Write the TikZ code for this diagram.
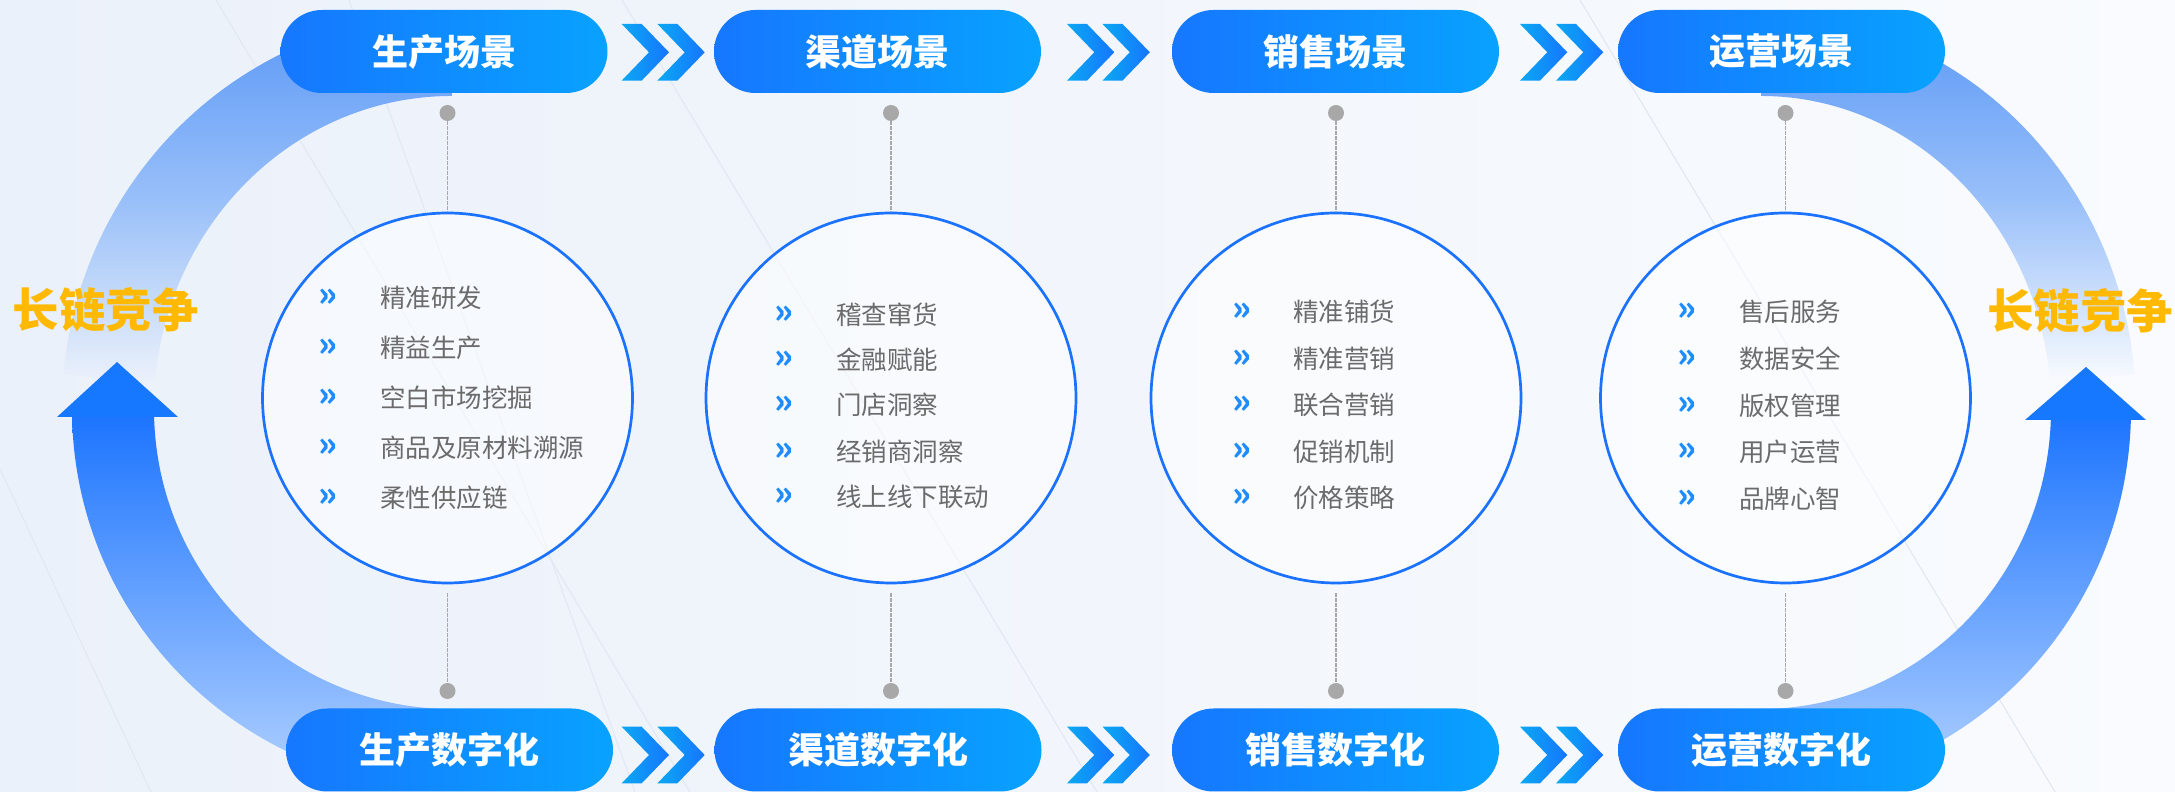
\documentclass[tikz,border=0pt]{standalone}
\usepackage{fontspec}
\newfontfamily\cjk{Noto Sans CJK SC}
\usetikzlibrary{calc}

\definecolor{bgL}{HTML}{EBF1FA}
\definecolor{bgR}{HTML}{F9FBFE}
\definecolor{streak}{HTML}{E3E9F2}
\definecolor{pillL}{HTML}{1677FF}
\definecolor{pillR}{HTML}{08A2FF}
\definecolor{chevL}{HTML}{0BA8F2}
\definecolor{chevR}{HTML}{1676FF}
\definecolor{ringblue}{HTML}{1A72FF}
\definecolor{pingray}{HTML}{A8A8A8}
\definecolor{itemgray}{HTML}{6B6B6B}
\definecolor{bulblue}{HTML}{1E8CFF}
\definecolor{gold}{HTML}{FFB900}
\definecolor{arcTop}{HTML}{5A98F6}
\definecolor{arcMid}{HTML}{98BFF9}
\definecolor{arcDark}{HTML}{1A73FF}
\definecolor{arcLight}{HTML}{B3D2FF}
\definecolor{arrowblue}{HTML}{1677FF}

\begin{document}
\begin{tikzpicture}[x=0.5pt,y=0.5pt,
  scenepill/.style={rounded corners=20.75pt, minimum width=163.5pt, minimum height=41.5pt,
    left color=pillL, right color=pillR, text=white, inner sep=0pt,
    font=\cjk\bfseries\fontsize{18}{20}\selectfont},
  ringnode/.style={circle, draw=ringblue, line width=1.35pt, fill=white, fill opacity=0.5,
    text opacity=1, minimum size=185pt, inner sep=0pt},
  pindot/.style={circle, fill=pingray, minimum size=8pt, inner sep=0pt},
  pinline/.style={draw=pingray, line width=0.7pt, dash pattern=on 1.6pt off 0.9pt},
  itemtext/.style={anchor=west, text=itemgray, inner sep=0pt,
    font=\cjk\fontsize{12.75}{14}\selectfont},
  itembullet/.style={text=bulblue, inner sep=0pt, font=\cjk\bfseries\fontsize{17}{18}\selectfont},
  chevshape/.style={left color=chevL, right color=chevR},
  sidelabel/.style={text=gold, inner sep=0pt, font=\cjk\bfseries\fontsize{23.25}{26}\selectfont}
]
\useasboundingbox (0,0) rectangle (2175,792);
\shade[left color=bgL, right color=bgR] (0,0) rectangle (2175,792);

% faint background streaks
\draw[streak, line width=0.6pt] (216,792) -- (690,0);
\draw[streak, line width=0.6pt] (0,323) -- (151,0);
\draw[streak, line width=0.6pt] (622,792) -- (1097,0);
\draw[streak, line width=0.6pt] (349,792) -- (635,0);
\draw[streak, line width=0.6pt] (1580,792) -- (2055,0);

% left loop
\shade[top color=arcTop, bottom color=bgL, middle color=arcMid]
  (452,778) arc[start angle=90, end angle=175, x radius=390, y radius=395]
  -- (155.1,410.3) arc[start angle=175, end angle=90, x radius=298, y radius=313] -- cycle;
\shade[top color=arcDark, bottom color=arcLight]
  (72,383) arc[start angle=180, end angle=270, x radius=380, y radius=380]
  -- (452,83) arc[start angle=270, end angle=180, x radius=298, y radius=300] -- cycle;
\fill[arrowblue] (57,375) -- (117,430) -- (178,375) -- cycle;

% right loop
\shade[top color=arcTop, bottom color=bgR, middle color=arcMid]
  (1761,778) arc[start angle=90, end angle=5, x radius=375, y radius=395]
  -- (2049.9,410.3) arc[start angle=5, end angle=90, x radius=290, y radius=313] -- cycle;
\shade[top color=arcDark, bottom color=arcLight]
  (2131,383) arc[start angle=0, end angle=-90, x radius=370, y radius=380]
  -- (1761,83) arc[start angle=-90, end angle=0, x radius=290, y radius=300] -- cycle;
\fill[arrowblue] (2025,372) -- (2086,425) -- (2146,372) -- cycle;

\node[sidelabel] (lleft) at (105.5,482) {长链竞争};
\node[sidelabel] (lright) at (2080,481) {长链竞争};

% circles
\node[ringnode] (circ1) at (447.5,394) {};
\node[ringnode] (circ2) at (891,394) {};
\node[ringnode] (circ3) at (1336,394) {};
\node[ringnode] (circ4) at (1785.5,394) {};

\node[pindot] (dt1) at (447.5,679) {};
\node[pindot] (dt2) at (891,679) {};
\node[pindot] (dt3) at (1336,679) {};
\node[pindot] (dt4) at (1785.5,679) {};
\node[pindot] (db1) at (447.5,101) {};
\node[pindot] (db2) at (891,101) {};
\node[pindot] (db3) at (1336,101) {};
\node[pindot] (db4) at (1785.5,101) {};

\draw[pinline] (dt1) -- (circ1);
\draw[pinline] (dt2) -- (circ2);
\draw[pinline] (dt3) -- (circ3);
\draw[pinline] (dt4) -- (circ4);
\draw[pinline] ([yshift=-4.5pt]circ1.south) -- (db1);
\draw[pinline] ([yshift=-4.5pt]circ2.south) -- (db2);
\draw[pinline] ([yshift=-4.5pt]circ3.south) -- (db3);
\draw[pinline] ([yshift=-4.5pt]circ4.south) -- (db4);

% scene pills
\node[scenepill] (scn1) at (444,740.5) {生产场景};
\node[scenepill] (scn2) at (877.5,740.5) {渠道场景};
\node[scenepill] (scn3) at (1335.5,740.5) {销售场景};
\node[scenepill] (scn4) at (1781.5,740.5) {运营场景};
\node[scenepill] (dig1) at (449.5,42) {生产数字化};
\node[scenepill] (dig2) at (878,42) {渠道数字化};
\node[scenepill] (dig3) at (1335.5,42) {销售数字化};
\node[scenepill] (dig4) at (1781.5,42) {运营数字化};

% chevrons between pills
\shade[chevshape] (621.7,768) -- ++(20,0) -- ++(27.3,-28.3) -- ++(-27.3,-28.3) -- ++(-20,0) -- ++(27.3,28.3) -- cycle;
\shade[chevshape] (657.4,768) -- ++(20,0) -- ++(27.3,-28.3) -- ++(-27.3,-28.3) -- ++(-20,0) -- ++(27.3,28.3) -- cycle;
\shade[chevshape] (1067,768) -- ++(20,0) -- ++(27.3,-28.3) -- ++(-27.3,-28.3) -- ++(-20,0) -- ++(27.3,28.3) -- cycle;
\shade[chevshape] (1102.5,768) -- ++(20,0) -- ++(27.3,-28.3) -- ++(-27.3,-28.3) -- ++(-20,0) -- ++(27.3,28.3) -- cycle;
\shade[chevshape] (1520,768) -- ++(20,0) -- ++(27.3,-28.3) -- ++(-27.3,-28.3) -- ++(-20,0) -- ++(27.3,28.3) -- cycle;
\shade[chevshape] (1556,768) -- ++(20,0) -- ++(27.3,-28.3) -- ++(-27.3,-28.3) -- ++(-20,0) -- ++(27.3,28.3) -- cycle;
\shade[chevshape] (621.7,65.3) -- ++(20,0) -- ++(27.3,-28.3) -- ++(-27.3,-28.3) -- ++(-20,0) -- ++(27.3,28.3) -- cycle;
\shade[chevshape] (657.4,65.3) -- ++(20,0) -- ++(27.3,-28.3) -- ++(-27.3,-28.3) -- ++(-20,0) -- ++(27.3,28.3) -- cycle;
\shade[chevshape] (1067,65.3) -- ++(20,0) -- ++(27.3,-28.3) -- ++(-27.3,-28.3) -- ++(-20,0) -- ++(27.3,28.3) -- cycle;
\shade[chevshape] (1102.5,65.3) -- ++(20,0) -- ++(27.3,-28.3) -- ++(-27.3,-28.3) -- ++(-20,0) -- ++(27.3,28.3) -- cycle;
\shade[chevshape] (1520,65.3) -- ++(20,0) -- ++(27.3,-28.3) -- ++(-27.3,-28.3) -- ++(-20,0) -- ++(27.3,28.3) -- cycle;
\shade[chevshape] (1556,65.3) -- ++(20,0) -- ++(27.3,-28.3) -- ++(-27.3,-28.3) -- ++(-20,0) -- ++(27.3,28.3) -- cycle;

% items, circle 1
\node[itembullet] (b11) at (328,494) {»};
\node[itembullet] (b12) at (328,444) {»};
\node[itembullet] (b13) at (328,394) {»};
\node[itembullet] (b14) at (328,344) {»};
\node[itembullet] (b15) at (328,294) {»};
\node[itemtext] (t11) at (380,494) {精准研发};
\node[itemtext] (t12) at (380,444) {精益生产};
\node[itemtext] (t13) at (380,394) {空白市场挖掘};
\node[itemtext] (t14) at (380,344) {商品及原材料溯源};
\node[itemtext] (t15) at (380,294) {柔性供应链};
% items, circle 2
\node[itembullet] (b21) at (784,477) {»};
\node[itembullet] (b22) at (784,432) {»};
\node[itembullet] (b23) at (784,387) {»};
\node[itembullet] (b24) at (784,340) {»};
\node[itembullet] (b25) at (784,295) {»};
\node[itemtext] (t21) at (836,477) {稽查窜货};
\node[itemtext] (t22) at (836,432) {金融赋能};
\node[itemtext] (t23) at (836,387) {门店洞察};
\node[itemtext] (t24) at (836,340) {经销商洞察};
\node[itemtext] (t25) at (836,295) {线上线下联动};
% items, circle 3
\node[itembullet] (b31) at (1241.7,480) {»};
\node[itembullet] (b32) at (1241.7,433.5) {»};
\node[itembullet] (b33) at (1241.7,387) {»};
\node[itembullet] (b34) at (1241.7,340.5) {»};
\node[itembullet] (b35) at (1241.7,294) {»};
\node[itemtext] (t31) at (1292.7,480) {精准铺货};
\node[itemtext] (t32) at (1292.7,433.5) {精准营销};
\node[itemtext] (t33) at (1292.7,387) {联合营销};
\node[itemtext] (t34) at (1292.7,340.5) {促销机制};
\node[itemtext] (t35) at (1292.7,294) {价格策略};
% items, circle 4
\node[itembullet] (b41) at (1687,480) {»};
\node[itembullet] (b42) at (1687,433.5) {»};
\node[itembullet] (b43) at (1687,386.5) {»};
\node[itembullet] (b44) at (1687,340) {»};
\node[itembullet] (b45) at (1687,293) {»};
\node[itemtext] (t41) at (1739,480) {售后服务};
\node[itemtext] (t42) at (1739,433.5) {数据安全};
\node[itemtext] (t43) at (1739,386.5) {版权管理};
\node[itemtext] (t44) at (1739,340) {用户运营};
\node[itemtext] (t45) at (1739,293) {品牌心智};
\end{tikzpicture}
\end{document}
